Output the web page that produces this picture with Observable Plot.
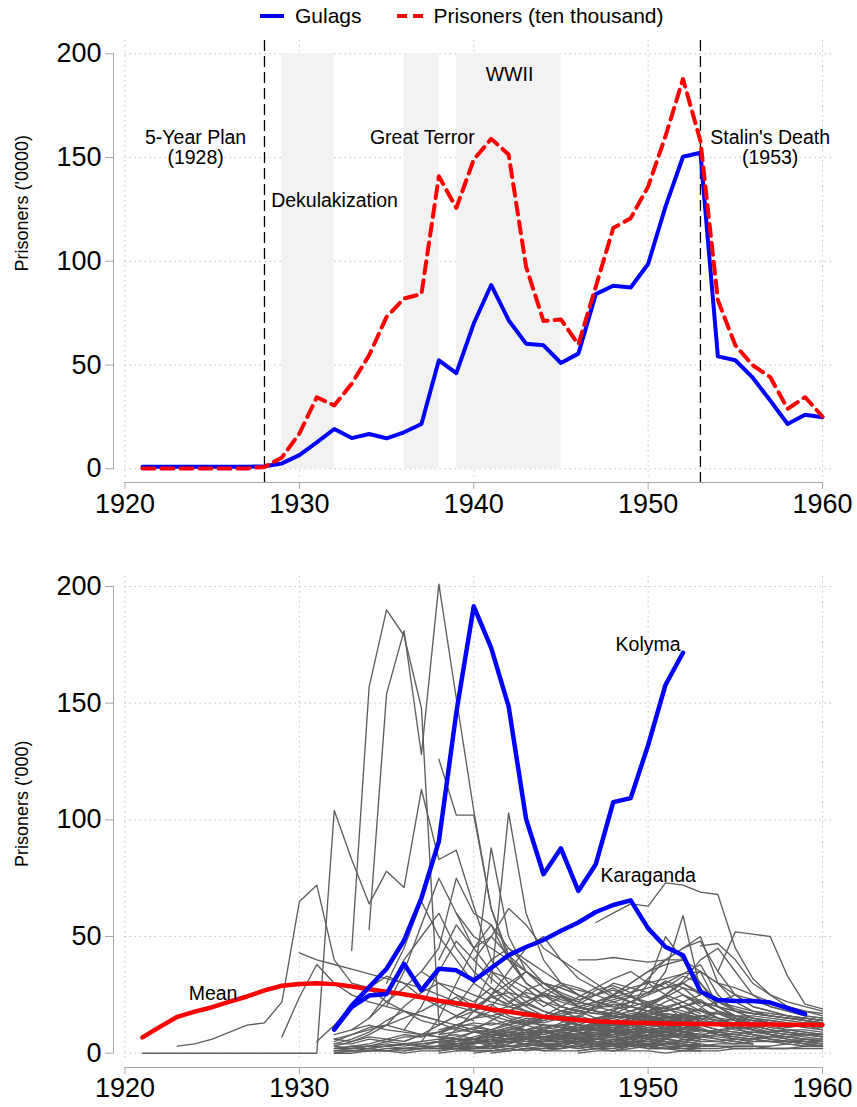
<!DOCTYPE html>
<html>
<head>
<meta charset="utf-8">
<script src="https://cdn.jsdelivr.net/npm/d3@7"></script>
<script src="https://cdn.jsdelivr.net/npm/@observablehq/plot@0.6"></script>
<style>
  body { margin: 0; background: #fff; font-family: "Liberation Sans", Helvetica, Arial, sans-serif; }
  #legend { position: relative; height: 30px; width: 857px; }
  #legend .items { position: absolute; left: 260px; top: 0; height: 32px; display: flex; align-items: center; font-size: 21px; color: #000; }
  #legend svg { display: block; }
  #top svg, #bottom svg { display: block; }
</style>
</head>
<body>
<div id="legend"></div>
<div id="top"></div>
<div id="bottom"></div>
<script>
// ---------- data ----------
const years = d3.range(1921, 1961);
const gulags = [1,1,1,1,1,1,1,1.2,2.6,6.6,12.7,19.2,14.8,16.8,14.7,17.6,21.6,52.3,46.1,70,88.6,71.6,60.3,59.5,51,55.5,84.2,88.2,87.4,98.7,126.5,150.4,152.3,54.2,52.3,43.9,32.9,21.6,26,24.8];
const prisoners = [0.2,0.2,0.2,0.2,0.2,0.2,0.2,0.9,5.5,17,34.5,30.5,41,54.7,73.2,82.1,84.2,141,125.7,149,159,151.5,97.4,71.2,72,60,87.8,116,120.8,136,160.4,187.8,158,81.3,59.5,49.9,44.2,28.9,34.5,25.2];

const xTicks = [1920, 1930, 1940, 1950, 1960];
const yTicks = [0, 50, 100, 150, 200];
const eventYears = [1928, 1953];
const shadeStart = [1929, 1936, 1939];
const shadeEnd = [1932, 1938, 1945];

const topLabels = ["5-Year Plan\n(1928)", "Great Terror", "WWII", "Stalin's Death\n(1953)"];
const topLabelYears = [1924.05, 1937.05, 1942.05, 1957.0];
const topLabelValues = [154.8, 159.6, 190.2, 154.8];
const sideLabel = "Dekulakization";
const sideLabelYear = 1928.38;
const sideLabelValue = 129.4;

const meanStart = 1921;
const meanValues = [6.8,11.3,15.6,17.8,19.7,22.1,24.3,26.9,28.9,29.7,30,29.6,28.6,27.4,26.3,25.3,24,22.5,21.4,20.3,18.8,17.8,16.7,15.6,14.9,14.2,13.7,13.4,13.1,12.9,12.7,12.6,12.5,12.4,12.4,12.3,12.3,12.2,12.2,12.2];
const kolymaStart = 1932;
const kolymaValues = [10.2,20.4,28.3,36.2,48.3,66.5,90.8,146,191.5,173.7,148.6,100.4,76.7,87.8,69.5,81,107.6,109.3,132,157.9,171.6];
const karagandaStart = 1932;
const karagandaValues = [10.2,19.7,24.7,25.4,38.3,26.9,36.2,35.5,31.2,36.5,42,45.5,48.5,52.5,56,60.5,63.5,65.5,53.5,45.5,42,26.4,22.8,22.4,22.4,21.7,19.3,16.8];

const bottomLabels = ["Mean", "Kolyma", "Karaganda"];
const bottomLabelYears = [1925.05, 1950.0, 1950.0];
const bottomLabelValues = [25.6, 175.2, 76.2];

// individual camps (grey lines): first year, yearly values ('000)
const camps = [
  [1921, [0,0,0,0,0,0,0,0,0,0,0,104,83,64,78,71,113,83,87,63,40,30,25,20]],
  [1923, [3,4,6,9,12,13,22,65,72,40,30,28,33,30,24,20,16,14]],
  [1933, [44,157,190,179,148,13,10,9,8,8,7,6]],
  [1934, [53,154,181,128,201,152,104,62,42,30,25,20,18]],
  [1938, [126,102,102,62,40,30,25,20,18,15]],
  [1929, [7,24,38,30,25,22,20,18,16,14]],
  [1930, [43,40,38,36,34,32,30,28,25,22,20,18]],
  [1931, [5,12,20,28,22,18,14,12]],
  [1935, [30,45,65,50,40,30,25,20,18,16]],
  [1937, [35,45,75,60,55,45,40,35,30,25,22,20]],
  [1940, [30,88,50,35,28,24,20,18,16,15,14,13,12]],
  [1941, [30,103,60,40,30,25,22,20,18,16,14,12,10]],
  [1938, [40,55,45,50,42,35,30,28,25,22,20]],
  [1939, [60,50,45,40,35,30,28,25,22]],
  [1940, [40,50,62,55,45,40,35,30,25,22,20,18]],
  [1936, [5,8,12,16,20,35,32,28,22,18,15,12]],
  [1946, [40,40,41,40,39,40,40,30,20,16,14,13,12,12,12]],
  [1947, [56,60,64,63,73,72,69,68,45,32,25,20,18,16]],
  [1953, [46,47,40,30,25,22,20,18]],
  [1954, [35,52,51,50,33,21,19]],
  [1950, [25,35,59,27,22,20,18,17,16,15,14]],
  [1948, [10,15,21,25,31,40,45,35,25,20,18,16,15]],
  [1949, [20,30,50,40,35,30,28,25,22,20,18,17]],
  [1932, [2,2,3,3,4,4,5,6,6,7,6,6,5,5,5,6,6,7,7,6,5,4,3,3,3,2,2,2,2]],
  [1932, [1,1,1,2,2,2,3,3,4,5,6,8,9,10,11,12,13,14,15,14,12,10,8,7,6,5,5,4,4]],
  [1932, [5,8,10,12,15,18,22,20,18,16,14,12,10,9,8,8,9,10,11,12,11,9]],
  [1932, [3,5,8,12,20,26,30,28,25,22,20,18,16,15,14,13,12,12,13,14,15,14]],
  [1933, [10,15,22,28,35,30,25,20,18,15,13,12,11,10,10,11,12,14,16,14]],
  [1934, [15,25,40,50,60,45,35,28,22,18,16,14,12,12,14,16,18,20,15]],
  [1935, [20,35,55,75,60,45,35,28,22,18,15,14,13,13,15,18,20,22]],
  [1936, [10,20,35,48,40,32,26,20,16,14,12,11,12,13,15,17,15]],
  [1937, [5,15,30,45,55,40,30,25,22,20,18,16,15,14,15,16,15]],
  [1938, [5,10,18,25,30,35,30,25,20,18,16,15,16,18,20,18]],
  [1938, [8,12,15,18,20,22,25,24,22,20,18,16,15,14,13,12]],
  [1939, [20,30,40,45,38,30,25,22,20,20,22,25,28,30,25]],
  [1939, [3,5,8,10,12,15,18,20,22,24,26,28,30,25,20,15,12,10,8,7,6,5]],
  [1940, [10,14,18,22,26,30,28,25,22,20,18,18,20,22,18,14,12,10,9,8,8]],
  [1940, [15,20,28,35,30,25,20,18,17,16,15,15,16,15]],
  [1941, [5,8,12,16,20,24,28,32,35,30,25,22,18,15,12,10,8,7,6,5]],
  [1941, [25,35,45,50,40,32,28,24,22,20,18,20,15]],
  [1942, [10,12,14,16,18,20,22,24,26,28,30,26,20,16,14,12,10,9,8]],
  [1943, [8,10,13,16,20,25,30,35,38,40,30,22,18,15,13,12,11,10]],
  [1944, [5,8,10,14,18,22,26,30,34,38,25,18,15,14,13,12,12]],
  [1945, [10,15,20,25,30,35,40,45,48,35,25,20,18,16,15,14]],
  [1946, [3,6,10,15,20,25,30,35,20,15,12,10,9,8,8]],
  [1947, [12,18,25,32,40,45,50,30,22,18,16,15,14,13]],
  [1944, [15,18,20,22,25,28,30,32,34,35,30,25,20,18,16,15,14]],
  [1952, [25,22,20,18,17,16,15,15,14]],
  [1953, [20,22,25,23,20,18,16,15]],
  [1938, [3,5,7,9,11,13,15,17,19,21,23,25,20,16,14,12,10,9,8,7,6,5,5]],
  [1938, [12,16,20,24,26,24,22,20,18,17,16,15,14,14,14,15]],
  [1932, [8,10,12,10,9,8,7,6,5]],
  [1932, [4,6,9,14,18,16,14,12,10]],
  [1932, [1,1,2,1,2,2,3,2,2,3,3,4,3,3,2,3,3,4,2,2,3,2]],
  [1932, [2,3,3,5,4,5,6,5,6,7,6,5,5,6,5,4,4,5,4,3,3,3]],
  [1932, [0,0,1,1,0,1,1,2,1,1,1,2,1,1,1,2,1,1,1,0,1,1]],
  [1933, [3,4,6,5,8,9,11,9,8,7,6,7,7,8,10,9,8,7,6,5,4]],
  [1932, [4,4,6,5,7,7,9,12,12,10,9,8,7,6,7,6,7,8,6,5,4,3]],
  [1938, [1,2,4,5,6,9,10,8,6,5,4,5,5,7,7,8,6,5,4]],
  [1938, [3,4,4,6,5,6,7,7,8,8,9,9,10,11,9,8,7,6,5]],
  [1938, [6,7,9,9,10,10,11,12,11,10,10,9,9,8,8,7]],
  [1938, [2,2,3,2,3,3,4,3,3,4,4,5,4,4,3,3,3,2,2]],
  [1938, [4,6,9,10,13,14,16,15,12,10,9,8,9,9,10,12]],
  [1940, [0,1,2,3,5,5,6,8,8,9,11,9,8,7,6,5,4]],
  [1940, [5,5,6,7,7,8,8,9,9,10,10,11,12,11,8,6,5]],
  [1941, [2,4,6,9,10,12,15,16,18,21,16,12,10,8,7,6,5,4,3,3]],
  [1942, [1,2,3,4,6,6,7,9,9,10,12,12,13,15,10,8,6,5,4]],
  [1943, [4,5,7,7,8,10,10,12,12,13,15,12,10,9,8]],
  [1944, [2,3,5,8,9,11,14,15,17,19,15,11,8,6,5,4,3]],
  [1945, [6,8,11,12,14,17,18,20,23,18,14,12,10,9,8,7]],
  [1946, [1,2,3,5,5,6,8,8,9,11,8,6,5,4,3]],
  [1947, [3,5,7,10,11,13,16,17,14,11,9,8,7,6]],
  [1948, [2,4,7,8,10,13,14,12,10,8,7,6,5]],
  [1953, [10,9,8,7,6,5,5,4]],
  [1953, [5,5,6,6,7,7,8,7]],
  [1953, [2,2,3,3,3,4,3,3]],
  [1953, [12,13,15,14,13,12,12,11]],
  [1950, [3,6,11,14,18,16,15,14,13,12,11]],
  [1932, [6,8,11,12,10,8,7,6,6,5,5,6,4,4,5,4,3,3,4,3,2,2]],
  [1938, [10,12,15,16,18,21,18,16,15,14,13,13,14,15,17,15,14,13]],
  [1939, [15,18,21,16,14,12,11,10,10,11,12,13,15,15,16,14,12]],
  [1938, [20,24,18,15,12,10,9,8,8,9,10,12,14,16,14]],
  [1941, [8,9,10,12,12,13,15,15,16,17,18,20,22,18,15,13,11,10,9,8]],
  [1938, [1,3,2,4,5,4,6,5,7,6,5,4,6,5,3,2]],
  [1938, [7,8,6,9,11,10,12,11,9,8,10,9,7,8,6,5]],
  [1938, [0,1,1,1,2,1,2,2,3,2,2,3,2,2,1,1]],
  [1938, [5,4,6,8,7,9,8,10,12,11,13,12,10,9,7,6]],
  [1938, [9,11,13,12,14,13,15,14,12,11,10,12,13,11,9,8]],
  [1938, [2,4,5,3,4,6,5,7,6,8,7,6,5,4,4,3]],
  [1938, [4,3,2,3,5,4,3,4,6,5,4,5,3,2,2,1]],
  [1939, [3,5,6,8,7,10,9,11,10,12,11,13,14,12,11]],
  [1939, [12,10,9,8,9,7,8,6,7,8,9,10,8,7,6]],
  [1939, [1,2,2,3,3,4,4,5,5,4,4,3,4,5,4]],
  [1940, [6,8,7,10,12,11,14,13,15,17,16,14,12,10]],
  [1940, [2,2,3,4,3,5,4,6,5,7,6,8,7,5]],
  [1940, [11,13,12,15,14,16,18,17,19,20,18,16,15,12]],
  [1941, [4,5,4,6,7,6,8,9,8,10,9,11,10]],
  [1941, [0,1,2,2,3,2,3,4,3,4,5,4,3]],
  [1942, [6,7,9,8,10,11,10,12,14,13,15,12]],
  [1942, [14,16,15,18,17,19,21,20,22,24,20,17]],
  [1943, [3,4,3,5,6,5,7,8,9,8,10]],
  [1943, [9,8,10,11,13,12,14,16,15,17,14]],
  [1944, [1,2,4,3,5,6,8,7,9,10]],
  [1944, [7,9,8,11,13,12,15,17,16,19]],
  [1945, [2,3,5,4,6,8,7,9,11]],
  [1945, [12,14,13,16,18,20,19,22,25]],
  [1946, [5,6,8,7,9,10,12,14]],
  [1946, [0,1,1,2,3,2,3,4]],
  [1947, [4,6,5,8,10,9,12]],
  [1947, [15,17,20,18,22,25,21]],
  [1948, [1,3,4,6,5,7]],
  [1948, [8,10,12,11,14,16]],
  [1949, [6,8,11,10,13]],
  [1950, [2,4,6,5]],
  [1938, [3,6,4,7,9,8,11,10,9,12,11,10,13,12,11,10,9,8,7]],
  [1938, [2,3,5,4,6,5,7,6,8,7,9,8,7,9,8,6,5,4,4]],
  [1938, [8,9,11,10,12,14,13,15,16,14,13,15,17,16,14,12,10,9,8]],
  [1953, [16,15,14,13,12,11,12,10]],
  [1953, [18,17,16,16,15,14,13,12]],
  [1953, [7,8,8,9,9,10,10,9]],
  [1953, [3,4,4,5,5,5,6,6]],
  [1953, [14,12,11,10,9,8,8,7]],
  [1953, [22,20,18,17,16,15,14,13]],
  [1953, [9,10,11,11,12,12,13,13]],
  [1953, [1,1,2,2,2,2,3,3]],
  [1950, [20,24,28,26,22,19,17,16,15,14,13]],
  [1932, [0,1,1,1,1,2,2]],
  [1932, [3,2,3,4,3,4,5]],
  [1932, [1,2,2,3,2,3,3]],
  [1934, [2,3,4,3,5,4]],
  [1932, [6,5,7,6,8,7,9]],
  [1936, [1,2,2,3,3]],
  [1939, [25,22,28,24,20,26,23,21,25,27,24,22,20,18,16]],
  [1940, [18,24,21,27,30,26,23,25,28,24,21,19,17,15]],
  [1942, [22,26,24,29,27,25,30,28,26,31,28,22]],
  [1944, [20,24,22,27,29,26,31,28,33,30]]
];

// ---------- helpers ----------
const seriesRows = (start, vals) => vals.map((v, i) => ({year: start + i, value: v}));
const FONT = '"Liberation Sans", Helvetica, Arial, sans-serif';
const AXIS_GREY = "#a8a8a8";
const GRID_GREY = "#c4c4c4";

// ---------- legend ----------
document.getElementById("legend").innerHTML = `
<div class="items">
  <svg width="24" height="8"><line x1="0" x2="24" y1="4" y2="4" stroke="#0000ff" stroke-width="4"/></svg>
  <span style="margin-left:11px">Gulags</span>
  <svg width="26" height="8" style="margin-left:35px"><line x1="0" x2="26" y1="4" y2="4" stroke="#ff0000" stroke-width="4" stroke-dasharray="10,6"/></svg>
  <span style="margin-left:11px">Prisoners (ten thousand)</span>
</div>`;

// ---------- top chart ----------
const topData = years.map((y, i) => ({year: y, gulags: gulags[i], prisoners: prisoners[i]}));
const shades = shadeStart.map((s, i) => ({start: s, end: shadeEnd[i]}));
const notes = topLabels.map((t, i) => ({label: t, year: topLabelYears[i], value: topLabelValues[i]}));

const topPlot = Plot.plot({
  width: 857, height: 500,
  marginLeft: 113, marginRight: 35, marginTop: 10, marginBottom: 48,
  x: {domain: [xTicks[0], xTicks[xTicks.length - 1]], range: [124.5, 822]},
  y: {domain: [yTicks[0], yTicks[yTicks.length - 1]], range: [438.3, 23.3]},
  style: {fontFamily: FONT, background: "white", color: "black", overflow: "visible"},
  marks: [
    Plot.gridY(yTicks, {stroke: GRID_GREY, strokeOpacity: 1, strokeDasharray: "1.5,3.5", insetLeft: 11.5, insetRight: -12}),
    Plot.gridX(xTicks, {stroke: GRID_GREY, strokeOpacity: 1, strokeDasharray: "1.5,3.5", insetBottom: 5}),
    Plot.rect(shades, {x1: "start", x2: "end", y1: yTicks[0], y2: yTicks[yTicks.length - 1], fill: "#f2f2f2"}),
    Plot.ruleX(eventYears, {stroke: "black", strokeWidth: 1.3, strokeDasharray: "11,5"}),
    Plot.line(topData, {x: "year", y: "gulags", stroke: "#0000ff", strokeWidth: 4, strokeLinejoin: "round"}),
    Plot.line(topData, {x: "year", y: "prisoners", stroke: "#ff0000", strokeWidth: 4, strokeDasharray: "12,7", strokeLinejoin: "round"}),
    Plot.text(notes, {x: "year", y: "value", text: "label", fontSize: 19.5, lineHeight: 1.05, fill: "black"}),
    Plot.text([sideLabel], {x: () => sideLabelYear, y: () => sideLabelValue, text: d => d, textAnchor: "start", fontSize: 19.5, fill: "black"}),
    Plot.frame({anchor: "bottom", insetLeft: 11.5, stroke: AXIS_GREY}),
    Plot.frame({anchor: "left", insetTop: 13.3, insetBottom: 13.7, stroke: AXIS_GREY}),
    Plot.axisX(xTicks, {anchor: "bottom", tickSize: 7, tickPadding: 4, stroke: AXIS_GREY, fill: "black", fontSize: 27, tickFormat: d => String(d), label: null}),
    Plot.axisY(yTicks, {anchor: "left", tickSize: 8, tickPadding: 4, stroke: AXIS_GREY, fill: "black", fontSize: 27, label: null}),
    Plot.text(["Prisoners ('0000)"], {frameAnchor: "left", text: d => d, rotate: -90, dx: -91, dy: 10, fontSize: 18, fill: "black"})
  ]
});
document.getElementById("top").append(topPlot);

// ---------- bottom chart ----------
const campRows = camps.flatMap(([start, vals], c) =>
  seriesRows(start, vals).filter(d => d.year <= 1960).map(d => ({...d, camp: c})));
const meanRows = seriesRows(meanStart, meanValues);
const kolymaRows = seriesRows(kolymaStart, kolymaValues);
const karagandaRows = seriesRows(karagandaStart, karagandaValues);
const bNotes = bottomLabels.map((t, i) => ({label: t, year: bottomLabelYears[i], value: bottomLabelValues[i]}));

const bottomPlot = Plot.plot({
  width: 857, height: 577,
  marginLeft: 113, marginRight: 35, marginTop: 46, marginBottom: 40,
  x: {domain: [xTicks[0], xTicks[xTicks.length - 1]], range: [124.5, 822]},
  y: {domain: [yTicks[0], yTicks[yTicks.length - 1]], range: [522.7, 56]},
  style: {fontFamily: FONT, background: "white", color: "black", overflow: "visible"},
  marks: [
    Plot.gridY(yTicks, {stroke: GRID_GREY, strokeOpacity: 1, strokeDasharray: "1.5,3.5", insetLeft: 11.5, insetRight: -12}),
    Plot.gridX(xTicks, {stroke: GRID_GREY, strokeOpacity: 1, strokeDasharray: "1.5,3.5", insetBottom: 6}),
    Plot.line(campRows, {x: "year", y: "value", z: "camp", stroke: "#5e5e5e", strokeWidth: 1.35}),
    Plot.line(meanRows, {x: "year", y: "value", stroke: "#ff0000", strokeWidth: 4.5, strokeLinejoin: "round"}),
    Plot.line(kolymaRows, {x: "year", y: "value", stroke: "#0000ff", strokeWidth: 4.5, strokeLinejoin: "round"}),
    Plot.line(karagandaRows, {x: "year", y: "value", stroke: "#0000ff", strokeWidth: 4.5, strokeLinejoin: "round"}),
    Plot.text(bNotes, {x: "year", y: "value", text: "label", fontSize: 19.5, fill: "black"}),
    Plot.frame({anchor: "bottom", insetLeft: 11.5, stroke: AXIS_GREY}),
    Plot.frame({anchor: "left", insetTop: 10, insetBottom: 14.3, stroke: AXIS_GREY}),
    Plot.axisX(xTicks, {anchor: "bottom", tickSize: 7, tickPadding: 3, stroke: AXIS_GREY, fill: "black", fontSize: 27, tickFormat: d => String(d), label: null}),
    Plot.axisY(yTicks, {anchor: "left", tickSize: 8, tickPadding: 4, stroke: AXIS_GREY, fill: "black", fontSize: 27, label: null}),
    Plot.text(["Prisoners ('000)"], {frameAnchor: "left", text: d => d, rotate: -90, dx: -91, dy: 45, fontSize: 18, fill: "black"})
  ]
});
document.getElementById("bottom").append(bottomPlot);
</script>
</body>
</html>
